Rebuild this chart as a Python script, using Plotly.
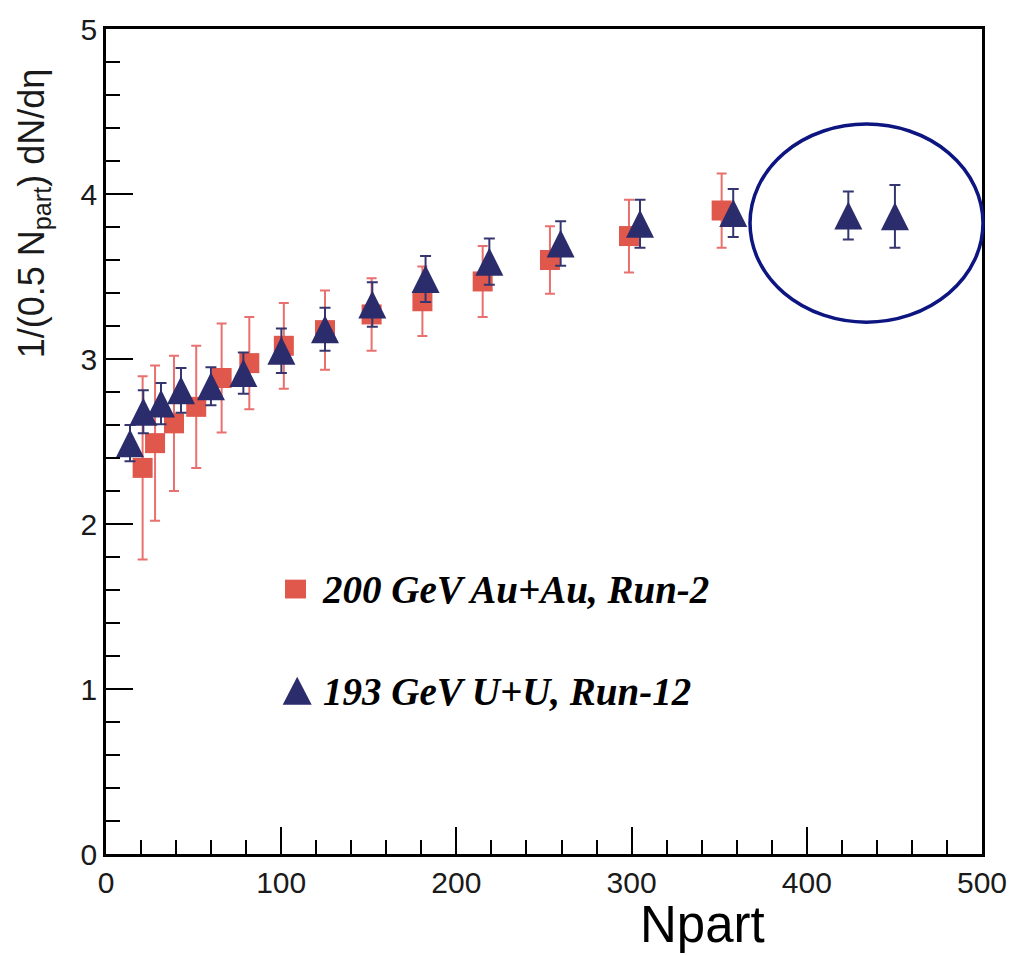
import plotly.graph_objects as go

# ---------------- data ----------------
npart_auau = [20.9, 28.0, 38.8, 51.5, 66.0, 81.8, 101.5, 125.0, 151.6, 180.6, 215.0, 253.4, 298.5, 351.4]
dndeta_auau = [2.34, 2.49, 2.61, 2.71, 2.885, 2.975, 3.08, 3.175, 3.27, 3.35, 3.47, 3.60, 3.745, 3.90]
err_auau = [0.555, 0.47, 0.41, 0.37, 0.33, 0.28, 0.26, 0.24, 0.22, 0.21, 0.215, 0.205, 0.22, 0.225]

npart_uu = [13.7, 21.3, 31.4, 42.8, 59.9, 78.4, 100.1, 125.0, 152.0, 182.4, 218.8, 259.5, 304.8, 358.0, 423.7, 450.3]
dndeta_uu = [2.49, 2.68, 2.73, 2.81, 2.835, 2.915, 3.05, 3.18, 3.33, 3.485, 3.59, 3.70, 3.82, 3.885, 3.87, 3.865]
err_uu = [0.11, 0.13, 0.125, 0.135, 0.115, 0.125, 0.135, 0.13, 0.135, 0.14, 0.14, 0.135, 0.145, 0.145, 0.145, 0.19]

series_names = ["200 GeV Au+Au, Run-2", "193 GeV U+U, Run-12"]
x_ticks = [0, 100, 200, 300, 400, 500]
y_ticks = [0, 1, 2, 3, 4, 5]
x_title = "Npart"
y_title = "1/(0.5 N<sub>part</sub>) dN/dη"

# ---------------- layout geometry ----------------
W, H = 1028, 956
L, R, T, B = 106, 46, 21, 102
PW, PH = W - L - R, H - T - B


def px(x):
    return (x - L) / PW


def py(y):
    return (H - B - y) / PH


RED = "#e0574c"
RED_ERR = "#e8716f"
BLUE = "#2b2c6b"
BLUE_ERR = "#35366f"
NAVY = "#0c1580"

TRI_SIZE = 28

fig = go.Figure()

fig.add_trace(go.Scatter(
    x=npart_auau, y=dndeta_auau, mode="markers", name=series_names[0],
    marker=dict(symbol="square", size=20, color=RED, line=dict(width=0)),
    error_y=dict(type="data", array=err_auau, visible=True, color=RED_ERR, thickness=2, width=5),
))

fig.add_trace(go.Scatter(
    x=npart_uu, y=dndeta_uu, mode="markers", name=series_names[1],
    marker=dict(symbol="arrow-down", angle=180, standoff=TRI_SIZE / 2, size=TRI_SIZE,
                color=BLUE, line=dict(width=0)),
    error_y=dict(type="data", array=err_uu, visible=True, color=BLUE_ERR, thickness=2, width=5.5),
))

axis_common = dict(
    showgrid=False, zeroline=False,
    showline=True, linecolor="black", linewidth=2.5, mirror=True,
    ticks="inside", ticklen=27, tickwidth=2, tickcolor="black",
    tickfont=dict(family="Liberation Sans, Arial", size=30, color="#1a1a1a"),
)

fig.update_xaxes(
    range=[0, 500], tickmode="array", tickvals=x_ticks, ticktext=[str(v) for v in x_ticks],
    minor=dict(ticks="inside", ticklen=14, tickwidth=2, tickcolor="black", tick0=0, dtick=20, showgrid=False),
    **axis_common,
)
fig.update_yaxes(
    range=[0, 5], tickmode="array", tickvals=y_ticks, ticktext=[str(v) for v in y_ticks],
    minor=dict(ticks="inside", ticklen=14, tickwidth=2, tickcolor="black", tick0=0, dtick=0.2, showgrid=False),
    **axis_common,
)

shapes = []
# highlight ellipse
shapes.append(dict(type="circle", xref="paper", yref="paper",
                   x0=px(750), x1=px(983), y0=py(317), y1=py(117),
                   line=dict(color=NAVY, width=3.5), fillcolor="rgba(0,0,0,0)", layer="above"))
# legend keys
shapes.append(dict(type="rect", xref="paper", yref="paper",
                   x0=px(285), x1=px(306), y0=py(596), y1=py(577),
                   line=dict(width=0), fillcolor=RED, layer="above"))
shapes.append(dict(type="path", xref="paper", yref="paper",
                   path="M {:.5f},{:.5f} L {:.5f},{:.5f} L {:.5f},{:.5f} Z".format(
                       px(282.7), py(703.3), px(311.7), py(703.3), px(297.2), py(675)),
                   line=dict(width=0), fillcolor=BLUE, layer="above"))

legend_font = dict(family="Liberation Serif, Times New Roman", size=39, color="black",
                   style="italic", weight="bold")
annotations = [
    dict(text=series_names[0], xref="paper", yref="paper", x=px(320), y=py(587),
         xanchor="left", yanchor="middle", showarrow=False, font=legend_font),
    dict(text=series_names[1], xref="paper", yref="paper", x=px(321), y=py(690),
         xanchor="left", yanchor="middle", showarrow=False, font=legend_font),
    dict(text=x_title, xref="paper", yref="paper", x=px(702), y=py(925),
         xanchor="center", yanchor="middle", showarrow=False,
         font=dict(family="Liberation Sans, Arial", size=51, color="black")),
    dict(text=y_title, xref="paper", yref="paper", x=px(34), y=py(207),
         xanchor="center", yanchor="middle", textangle=-90, showarrow=False,
         font=dict(family="Liberation Sans, Arial", size=36, color="#1a1a1a")),
]

fig.update_layout(
    width=W, height=H,
    margin=dict(l=L, r=R, t=T, b=B, pad=0),
    paper_bgcolor="white", plot_bgcolor="white",
    showlegend=False,
    shapes=shapes, annotations=annotations,
)

fig.write_html("out.html")
